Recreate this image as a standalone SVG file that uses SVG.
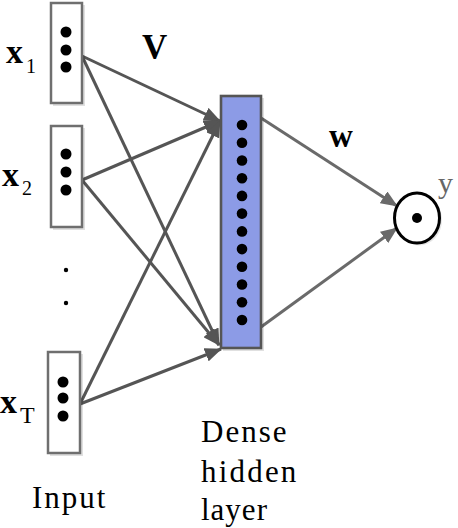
<svg xmlns="http://www.w3.org/2000/svg" width="458" height="528" viewBox="0 0 458 528">
<defs>
<style>
.inbox{fill:#fff;stroke:#6f6f6f;stroke-width:2.5}
.shd{fill:#000;fill-opacity:0.12}
.dot{fill:#000}
.conn{stroke:#555;stroke-width:3;fill:none}
.out{stroke:#6a6a6a;stroke-width:3;fill:none}
</style>
<marker id="ah" markerUnits="userSpaceOnUse" markerWidth="17" markerHeight="14" refX="16" refY="7" orient="auto">
<path d="M0,0 L17,7 L0,14 z" fill="#555"/>
</marker>
<marker id="ah2" markerUnits="userSpaceOnUse" markerWidth="17" markerHeight="14" refX="16" refY="7" orient="auto">
<path d="M0,0 L17,7 L0,14 z" fill="#6a6a6a"/>
</marker>
</defs>
<rect width="458" height="528" fill="#fff"/>

<g id="connectors">
<line class="conn" x1="82" y1="56" x2="220" y2="121" marker-end="url(#ah)"/>
<line class="conn" x1="82" y1="56" x2="219" y2="345" marker-end="url(#ah)"/>
<line class="conn" x1="82" y1="180" x2="220" y2="121" marker-end="url(#ah)"/>
<line class="conn" x1="82" y1="180" x2="219" y2="345" marker-end="url(#ah)"/>
<line class="conn" x1="80" y1="404" x2="220" y2="121" marker-end="url(#ah)"/>
<line class="conn" x1="80" y1="404" x2="221" y2="349" marker-end="url(#ah)"/>
<line class="out" x1="261" y1="118" x2="397" y2="206" marker-end="url(#ah2)"/>
<line class="out" x1="261" y1="327" x2="397" y2="228" marker-end="url(#ah2)"/>
</g>

<g id="x1">
<rect class="shd" x="53" y="5" width="32" height="101"/>
<rect class="inbox" x="51" y="3" width="31" height="100"/>
<circle class="dot" cx="66" cy="32" r="5.5"/>
<circle class="dot" cx="66" cy="50" r="5.5"/>
<circle class="dot" cx="66" cy="67" r="5.5"/>
</g>

<g id="x2">
<rect class="shd" x="53" y="128" width="32" height="102"/>
<rect class="inbox" x="51" y="126" width="31" height="101"/>
<circle class="dot" cx="66" cy="154" r="5.5"/>
<circle class="dot" cx="66" cy="172" r="5.5"/>
<circle class="dot" cx="66" cy="190" r="5.5"/>
</g>

<g id="ellipsis">
<circle class="dot" cx="66" cy="270" r="2.2"/>
<circle class="dot" cx="66" cy="303" r="2.2"/>
</g>

<g id="xT">
<rect class="shd" x="50" y="354" width="33" height="102"/>
<rect class="inbox" x="48" y="352" width="32" height="101"/>
<circle class="dot" cx="63" cy="382" r="5.5"/>
<circle class="dot" cx="63" cy="398" r="5.5"/>
<circle class="dot" cx="63" cy="416" r="5.5"/>
</g>

<g id="hidden">
<rect class="shd" x="223" y="98" width="41" height="253"/>
<rect x="221" y="96" width="40" height="252" fill="#8c9be6" stroke="#555" stroke-width="2.6"/>
<circle class="dot" cx="242" cy="125" r="5.3"/>
<circle class="dot" cx="242" cy="142.7" r="5.3"/>
<circle class="dot" cx="242" cy="160.5" r="5.3"/>
<circle class="dot" cx="242" cy="178.2" r="5.3"/>
<circle class="dot" cx="242" cy="195.9" r="5.3"/>
<circle class="dot" cx="242" cy="213.6" r="5.3"/>
<circle class="dot" cx="242" cy="231.4" r="5.3"/>
<circle class="dot" cx="242" cy="249.1" r="5.3"/>
<circle class="dot" cx="242" cy="266.8" r="5.3"/>
<circle class="dot" cx="242" cy="284.5" r="5.3"/>
<circle class="dot" cx="242" cy="302.3" r="5.3"/>
<circle class="dot" cx="242" cy="320" r="5.3"/>
</g>

<g id="output">
<ellipse cx="419" cy="220" rx="23" ry="25.5" fill="#000" fill-opacity="0.1"/>
<ellipse cx="417" cy="218" rx="22.5" ry="25" fill="#fff" stroke="#000" stroke-width="3"/>
<circle class="dot" cx="417" cy="218" r="5"/>
</g>

<text x="6" y="63" font-size="34" font-weight="bold" font-family="Liberation Serif">x</text>
<text x="26" y="73" font-size="20" font-family="Liberation Serif">1</text>
<text x="2" y="186" font-size="34" font-weight="bold" font-family="Liberation Serif">x</text>
<text x="22" y="195" font-size="20" font-family="Liberation Serif">2</text>
<text x="0" y="413" font-size="34" font-weight="bold" font-family="Liberation Serif">x</text>
<text x="20" y="423" font-size="24" font-family="Liberation Serif">T</text>
<text x="438" y="193" font-size="30" fill="#666" font-family="Liberation Serif">y</text>
<text x="142" y="59" font-size="35" font-weight="bold" font-family="Liberation Serif">V</text>
<text x="329" y="147" font-size="33" font-weight="bold" font-family="Liberation Serif">w</text>
<text x="201" y="442" font-size="31" letter-spacing="2" font-family="Liberation Serif">Dense</text>
<text x="201" y="482" font-size="31" letter-spacing="2.2" font-family="Liberation Serif">hidden</text>
<text x="201" y="520" font-size="31" letter-spacing="1" font-family="Liberation Serif">layer</text>
<text x="32" y="508" font-size="31" letter-spacing="2" font-family="Liberation Serif">Input</text>
</svg>
